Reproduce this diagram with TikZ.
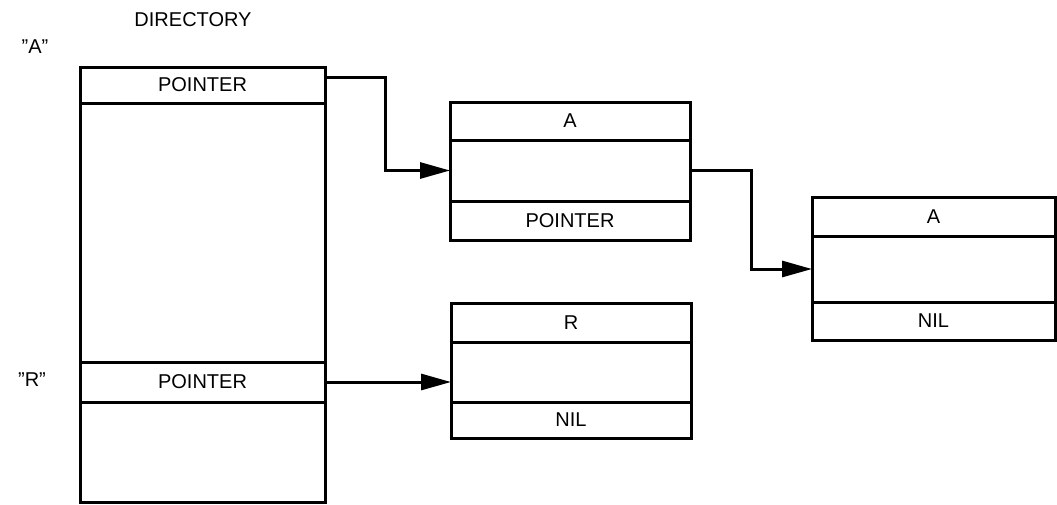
\documentclass[tikz,border=0pt]{standalone}
\usepackage{fontspec}
\setmainfont{Liberation Sans}
\usetikzlibrary{arrows.meta}
\begin{document}
\begin{tikzpicture}[x=1pt,y=-1pt,
  cell/.style={draw,line width=3pt,rectangle,inner sep=0pt,outer sep=0pt,anchor=north west,font=\fontsize{20}{23}\selectfont},
  lbl/.style={font=\fontsize{20}{23}\selectfont,inner sep=0pt},
  conn/.style={line width=3pt,-{Triangle[length=30pt,width=16pt]}}]
\useasboundingbox (0,0) rectangle (1057,504);
% directory
\node[cell,minimum width=245pt,minimum height=36pt] (dirA) at (80,67) {POINTER};
\node[cell,minimum width=245pt,minimum height=259pt] (dirMid) at (80,103) {};
\node[cell,minimum width=245pt,minimum height=40pt] (dirR) at (80,362) {POINTER};
\node[cell,minimum width=245pt,minimum height=100pt] (dirBot) at (80,402) {};
% box A
\node[cell,minimum width=240pt,minimum height=38pt] (aTop) at (450,102) {A};
\node[cell,minimum width=240pt,minimum height=61pt] (aMid) at (450,140) {};
\node[cell,minimum width=240pt,minimum height=39pt] (aBot) at (450,201) {POINTER};
% box R
\node[cell,minimum width=240pt,minimum height=39pt] (rTop) at (451,303) {R};
\node[cell,minimum width=240pt,minimum height=60pt] (rMid) at (451,342) {};
\node[cell,minimum width=240pt,minimum height=36pt] (rBot) at (451,402) {NIL};
% box A2
\node[cell,minimum width=243pt,minimum height=39pt] (bTop) at (812,197) {A};
\node[cell,minimum width=243pt,minimum height=66pt] (bMid) at (812,236) {};
\node[cell,minimum width=243pt,minimum height=38pt] (bBot) at (812,302) {NIL};
% labels
\node[lbl] (dirLbl) at (193,20) {DIRECTORY};
\node[lbl] (qA) at (35,47) {''A''};
\node[lbl] (qR) at (32,380) {''R''};
% connectors
\coordinate (startA) at ([yshift=8pt]dirA.east);
\draw[conn] (startA) -- (startA -| 385,0) |- (aMid.west);
\draw[conn] (aMid.east) -- (751,0 |- aMid.east) |- (bMid.west);
\draw[conn] (dirR.east) -- (dirR.east -| rMid.west);
\end{tikzpicture}
\end{document}
